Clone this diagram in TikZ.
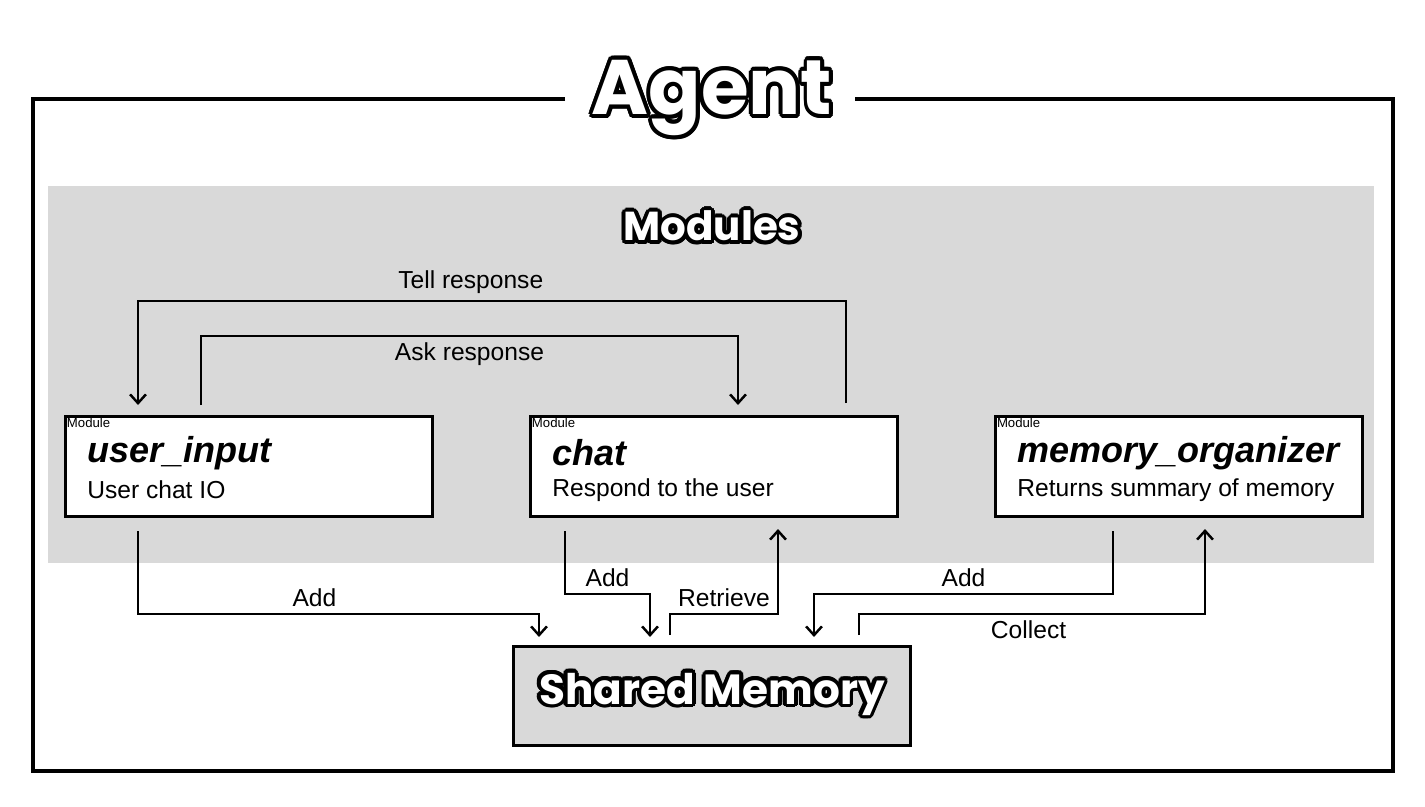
\documentclass[tikz,border=0pt]{standalone}
\usepackage{fontspec}
\setmainfont{Liberation Sans}
\newfontfamily\headfont{Poppins}[BoldFont={* Bold}]
\usepackage[copies]{contour}
\contourlength{2.2pt}
\usetikzlibrary{arrows.meta, positioning}
\definecolor{panel_gray}{RGB}{217, 217, 217}
\def \outlined #1{\contour{black}{\textcolor{white}{#1}}}

\begin{document}
\begin{tikzpicture}[
    x=0.02cm, y=-0.02cm,
    module/.style={
        rectangle,
        draw=black,
        fill=white,
        line width=1.5pt,
        minimum width=7.34cm,
        minimum height=2cm,
        anchor=north west
    },
    memory/.style={
        rectangle,
        draw=black,
        fill=panel_gray,
        line width=1.5pt,
        minimum width=7.94cm,
        minimum height=1.98cm,
        font=\headfont\bfseries\fontsize{24}{28}\selectfont
    },
    tag/.style={
        anchor=north west,
        inner sep=1.5pt,
        font=\fontsize{7.5}{8}\selectfont
    },
    title/.style={
        anchor=west,
        inner sep=0pt,
        font=\bfseries\itshape\fontsize{20.5}{24}\selectfont
    },
    desc/.style={
        anchor=west,
        inner sep=0pt,
        font=\fontsize{14}{16}\selectfont
    },
    label/.style={
        font=\fontsize{14}{16}\selectfont
    },
    arrow/.style={
        -{Straight Barb[length=5pt, width=9pt]},
        line width=1.4pt
    }
]
\useasboundingbox (0,0) rectangle (1425,807);

% frame and panel
\draw[line width=2.8pt] (565,99) -| (33,771) -| (1393,99) -- (855,99);
\fill[panel_gray] (48,186) rectangle (1374,563);
\node[font=\headfont\bfseries\fontsize{44}{50}\selectfont] (agent) at (712,100) {\outlined{Agent}};
\node[font=\headfont\bfseries\fontsize{23}{28}\selectfont] (modules) at (712,228) {\outlined{Modules}};

% modules
\node[module] (user) at (64,415) {};
\node[module] (chat) at (529,415) {};
\node[module] (organizer) at (994,415) {};
\foreach \m/\t/\d in {user/user\_input/User chat IO,
                       chat/chat/Respond to the user,
                       organizer/memory\_organizer/Returns summary of memory} {
    \node[tag] at (\m.north west) {Module};
    \node[title] at ([xshift=0.46cm, yshift=-0.76cm]\m.north west) {\t};
    \node[desc] at ([xshift=0.46cm, yshift=-1.5cm]\m.north west) {\d};
}

\node[memory] (shared) at (712,696) {\outlined{Shared Memory}};

% connectors between modules
\coordinate (tellstart) at (846,403);
\coordinate (tellend) at (138,405);
\draw[arrow] (tellstart) -- (846,301) -- node[label, above, pos=0.53] {Tell response} (138,301) -- (tellend);
\coordinate (askstart) at (201,405);
\coordinate (askend) at (738,405);
\draw[arrow] (askstart) -- (201,336) -- node[label, below, pos=0.5] {Ask response} (738,336) -- (askend);

% connectors to memory
\draw[arrow] (138,531) -- (138,614) -- node[label, above, pos=0.44] {Add} (539,614) -- (539,637);
\draw[arrow] (565,531) -- (565,594) -- node[label, above] {Add} (650,594) -- (650,637);
\draw[arrow] (670,635) -- (670,614) -- node[label, above, pos=0.5] {Retrieve} (778,614) -- (778,529);
\draw[arrow] (1113,531) -- (1113,594) -- node[label, above] {Add} (814,594) -- (814,637);
\draw[arrow] (859,635) -- (859,614) -- node[label, below, pos=0.49] {Collect} (1205,614) -- (1205,529);

\end{tikzpicture}
\end{document}
